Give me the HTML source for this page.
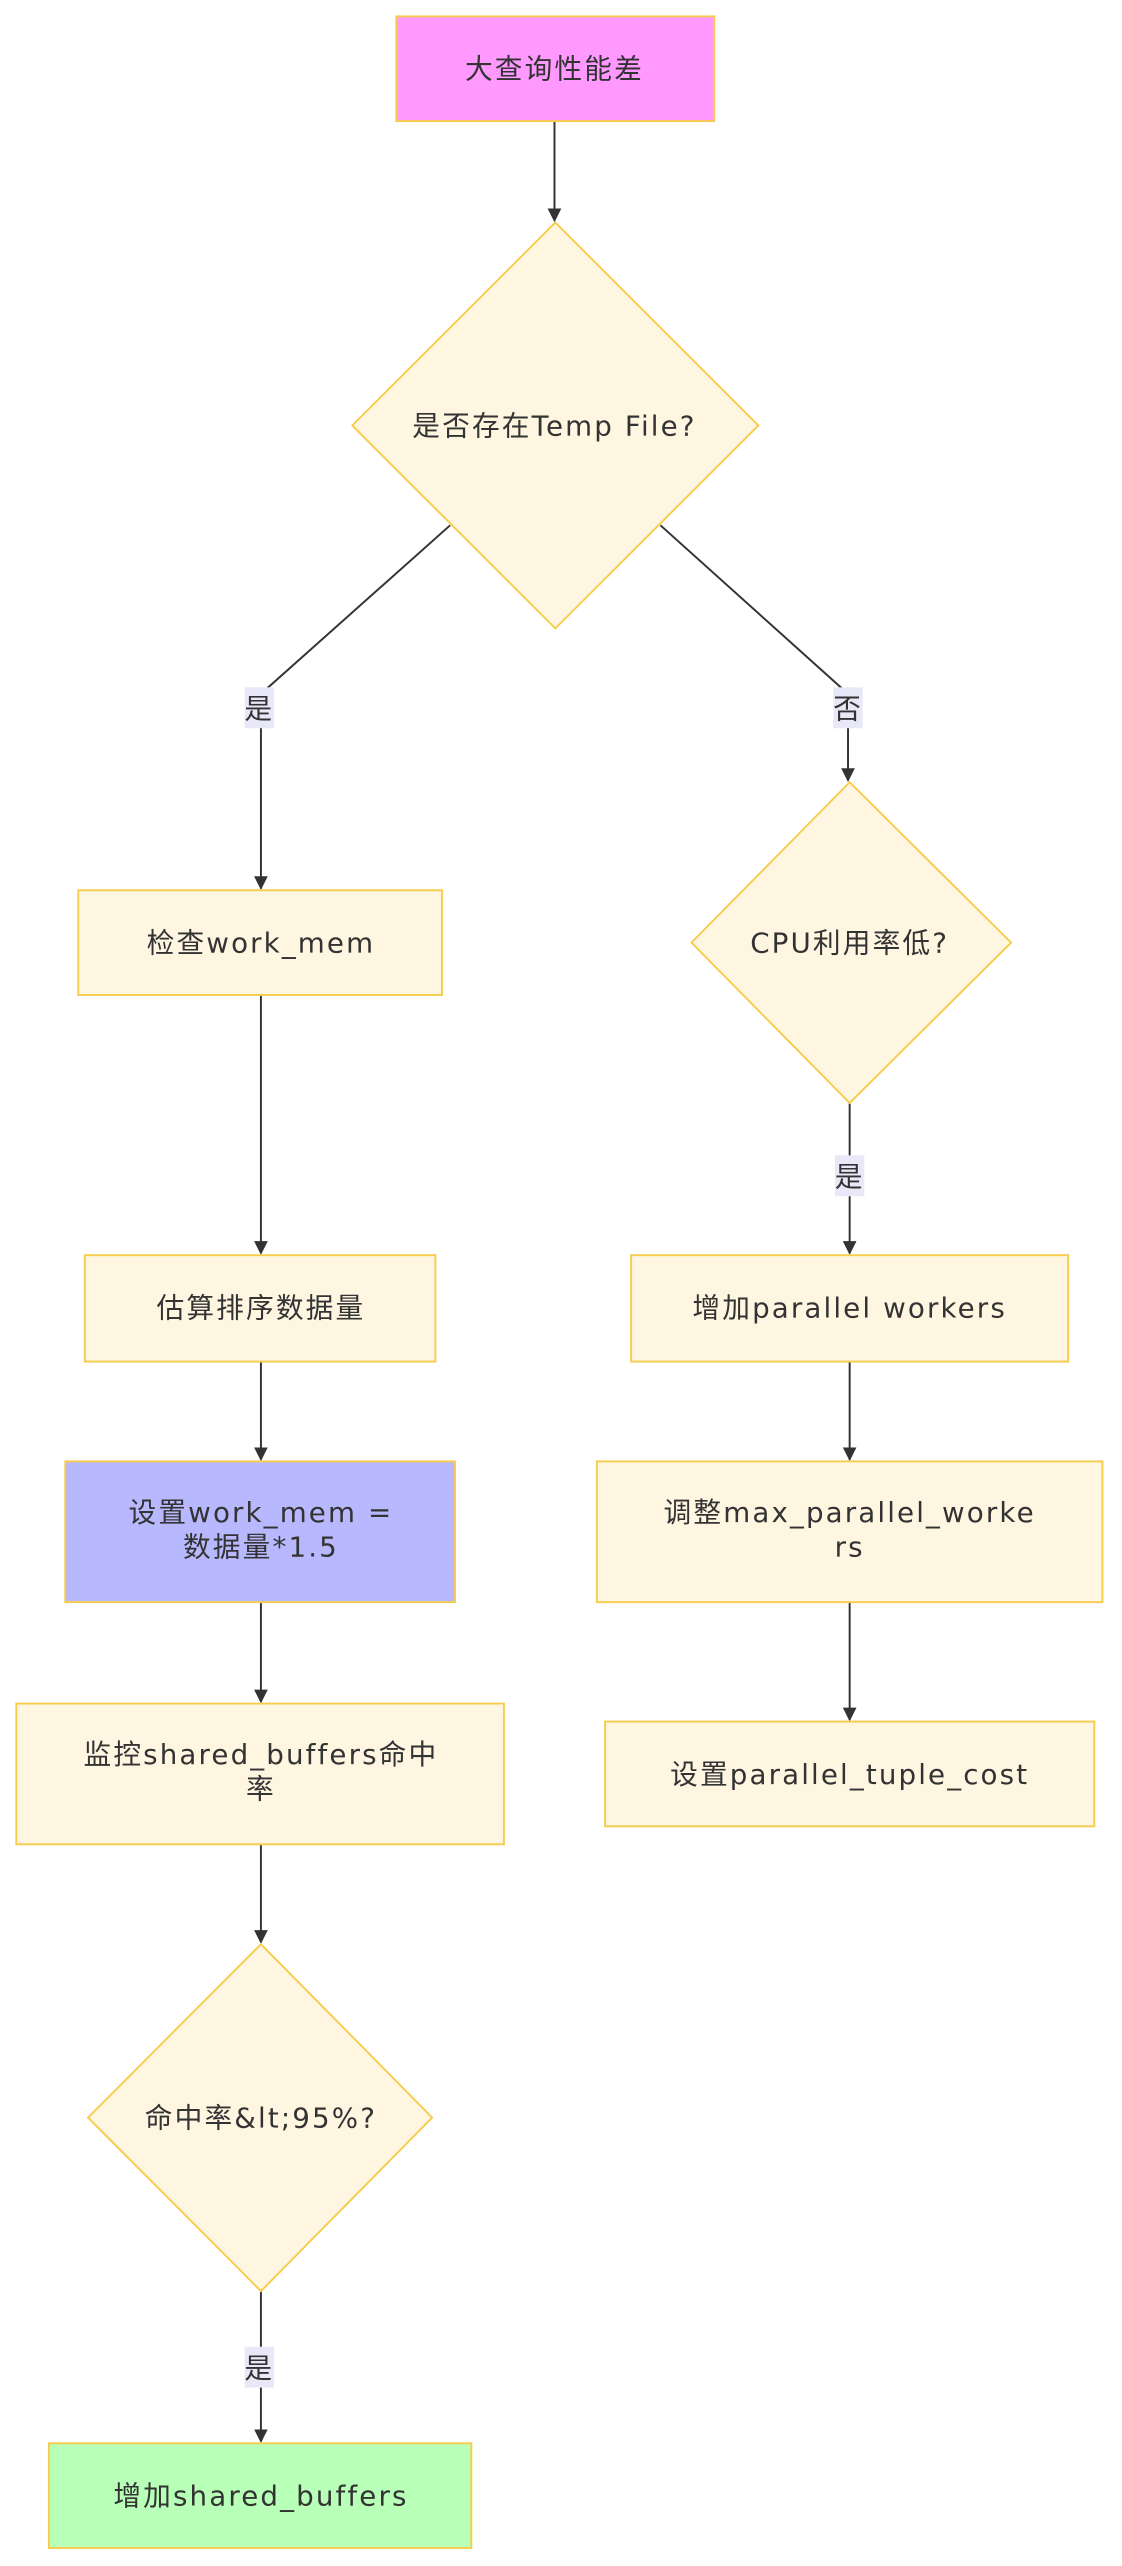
<!DOCTYPE html>
<html><head><meta charset="utf-8"><style>
html,body{margin:0;padding:0;background:#fff;}
svg{display:block}
text{font-family:"DejaVu Sans","Noto Sans CJK SC",sans-serif;font-size:17px;fill:#333;letter-spacing:1.3px;}
</style></head><body>
<svg width="1122" height="2566" viewBox="0 0 688 1568" preserveAspectRatio="none" xmlns="http://www.w3.org/2000/svg">
<defs><marker id="a" viewBox="0 0 10 10" refX="9" refY="5" markerWidth="7" markerHeight="7" orient="auto"><path d="M0,0L10,5L0,10z" fill="#333"/></marker></defs>
<g stroke="#333" stroke-width="1.2" fill="none">
<path d="M340,74V135" marker-end="url(#a)"/>
<path d="M276,321L160,424V543" marker-end="url(#a)"/>
<path d="M405,321L520,424V477" marker-end="url(#a)"/>
<path d="M521,674V766" marker-end="url(#a)"/>
<path d="M160,608V766" marker-end="url(#a)"/>
<path d="M160,832V892" marker-end="url(#a)"/>
<path d="M160,979V1040" marker-end="url(#a)"/>
<path d="M160,1127V1187" marker-end="url(#a)"/>
<path d="M160,1400V1492" marker-end="url(#a)"/>
<path d="M521,832V892" marker-end="url(#a)"/>
<path d="M521,979V1051" marker-end="url(#a)"/>
</g>
<g fill="#e8e8f8">
<rect x="150" y="420" width="18" height="25"/>
<rect x="511" y="420" width="18" height="25"/>
<rect x="512" y="706" width="18" height="25"/>
<rect x="150" y="1434" width="18" height="25"/>
</g>
<g stroke="#f7cd4f" stroke-width="1.2" fill="#fff6e2">
<rect x="243" y="10" width="195" height="64" fill="#ff99ff"/>
<polygon points="340.5,136 465,260 340.5,384 216,260"/>
<rect x="48" y="544" width="223" height="64"/>
<polygon points="521,478 620,576 521,674 424,576"/>
<rect x="52" y="767" width="215" height="65"/>
<rect x="387" y="767" width="268" height="65"/>
<rect x="40" y="893" width="239" height="86" fill="#b8b8ff"/>
<rect x="366" y="893" width="310" height="86"/>
<rect x="10" y="1041" width="299" height="86"/>
<rect x="371" y="1052" width="300" height="64"/>
<polygon points="160,1188 265,1294 160,1400 54,1294"/>
<rect x="30" y="1493" width="259" height="64" fill="#b8ffb8"/>
</g>
<g text-anchor="middle">
<text x="340" y="48">大查询性能差</text>
<text x="340" y="266">是否存在Temp File?</text>
<text x="160" y="582">检查work_mem</text>
<text x="521" y="582">CPU利用率低?</text>
<text x="160" y="805">估算排序数据量</text>
<text x="521" y="805">增加parallel workers</text>
<text x="160" y="930">设置work_mem =</text>
<text x="160" y="951">数据量*1.5</text>
<text x="521" y="930">调整max_parallel_worke</text>
<text x="521" y="951">rs</text>
<text x="160" y="1078">监控shared_buffers命中</text>
<text x="160" y="1099">率</text>
<text x="521" y="1090">设置parallel_tuple_cost</text>
<text x="160" y="1300">命中率&amp;lt;95%?</text>
<text x="160" y="1531">增加shared_buffers</text>
<text x="159" y="439">是</text>
<text x="520" y="439">否</text>
<text x="521" y="725">是</text>
<text x="159" y="1453">是</text>
</g>
</svg>
</body></html>
